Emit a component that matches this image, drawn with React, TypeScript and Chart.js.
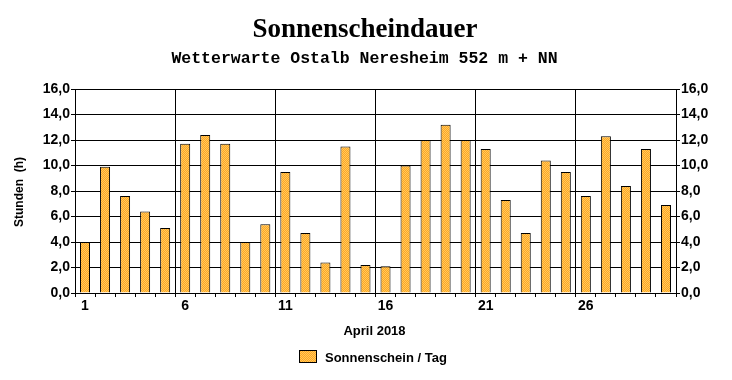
import React, { useEffect, useRef } from "react";
import { Chart, registerables } from "chart.js";

Chart.register(...registerables);

const days: string[] = Array.from({ length: 30 }, (_, i) => String(i + 1));
const sunshineHours: number[] = [
  4.0, 9.9, 7.6, 6.4, 5.1, 11.7, 12.4, 11.7, 4.0, 5.4,
  9.5, 4.7, 2.4, 11.5, 2.2, 2.1, 10.0, 12.0, 13.2, 12.0,
  11.3, 7.3, 4.7, 10.4, 9.5, 7.6, 12.3, 8.4, 11.3, 6.9,
];
const titleText = "Sonnenscheindauer";
const subtitleText = "Wetterwarte Ostalb Neresheim 552 m + NN";
const yTitle = "Stunden  (h)";
const xTitle = "April 2018";
const seriesLabel = "Sonnenschein / Tag";

function makePattern(ctx: CanvasRenderingContext2D): CanvasPattern | string {
  const c = document.createElement("canvas");
  c.width = 2;
  c.height = 2;
  const g = c.getContext("2d");
  if (!g) return "#FFB840";
  g.fillStyle = "#FFA424";
  g.fillRect(0, 0, 2, 2);
  g.fillStyle = "#FFCC5C";
  g.fillRect(0, 0, 1, 1);
  g.fillRect(1, 1, 1, 1);
  return ctx.createPattern(c, "repeat") || "#FFB840";
}

const tickFont = { family: "'Liberation Sans', Arial, sans-serif", size: 14, weight: "bold" as const };

export default function App() {
  const ref = useRef<HTMLCanvasElement>(null);
  useEffect(() => {
    document.body.style.margin = "0";
    const canvas = ref.current!;
    const ctx = canvas.getContext("2d")!;
    const pattern = makePattern(ctx);

    const textPlugin = {
      id: "texts",
      afterDraw(chart: any) {
        const c = chart.ctx as CanvasRenderingContext2D;
        c.save();
        c.fillStyle = "#000";
        c.textAlign = "center";
        c.textBaseline = "alphabetic";
        c.font = "bold 27px 'Liberation Serif', 'Times New Roman', serif";
        c.fillText(titleText, 365, 37);
        c.font = "bold 16.5px 'Liberation Mono', 'Courier New', monospace";
        c.fillText(subtitleText, 364.5, 63);
        c.font = "bold 13px 'Liberation Sans', Arial, sans-serif";
        c.fillText(xTitle, 374.5, 335);
        c.save();
        c.translate(23, 192);
        c.rotate(-Math.PI / 2);
        c.font = "bold 12px 'Liberation Sans', Arial, sans-serif";
        c.fillText(yTitle, 0, 0);
        c.restore();
        // legend
        c.fillStyle = pattern as any;
        c.fillRect(299, 350, 18, 13);
        c.strokeStyle = "#000";
        c.lineWidth = 1;
        c.strokeRect(299.5, 350.5, 17, 12);
        c.fillStyle = "#000";
        c.textAlign = "left";
        c.font = "bold 13px 'Liberation Sans', Arial, sans-serif";
        c.fillText(seriesLabel, 325, 362);
        c.restore();
      },
    };

    const fmt = (v: any) => Number(v).toFixed(1).replace(".", ",");

    const chart = new Chart(canvas, {
      type: "bar",
      data: {
        labels: days,
        datasets: [
          {
            label: seriesLabel,
            data: sunshineHours,
            backgroundColor: pattern as any,
            borderColor: "#000",
            borderWidth: 1,
            barPercentage: 0.5,
            categoryPercentage: 1,
            yAxisID: "y",
          },
        ],
      },
      options: {
        responsive: false,
        animation: false,
        devicePixelRatio: 1,
        layout: { padding: { top: 89, left: 0, right: 0, bottom: 0 } },
        plugins: {
          legend: { display: false },
          title: { display: false },
          tooltip: { enabled: false },
        },
        scales: {
          x: {
            type: "category",
            offset: true,
            grid: {
              offset: true,
              color: (c: any) => (c.index % 5 === 0 ? "#000" : "rgba(0,0,0,0)"),
              tickColor: "#000",
              tickLength: 4,
              lineWidth: 1,
            },
            border: { display: true, color: "#000", width: 1 },
            ticks: {
              autoSkip: false,
              maxRotation: 0,
              minRotation: 0,
              color: "#000",
              font: tickFont,
              padding: 1,
              callback: (_v: any, i: number) => (i % 5 === 0 ? days[i] : ""),
            },
            afterFit: (s: any) => {
              s.height = 87;
            },
          },
          y: {
            position: "left",
            min: 0,
            max: 16,
            ticks: { stepSize: 2, color: "#000", font: tickFont, padding: 1, callback: fmt },
            grid: { color: "#000", tickColor: "#000", tickLength: 4, lineWidth: 1 },
            border: { display: true, color: "#000", width: 1 },
            afterFit: (s: any) => {
              s.width = 75;
            },
          },
          y2: {
            position: "right",
            min: 0,
            max: 16,
            ticks: { stepSize: 2, color: "#000", font: tickFont, padding: 1, callback: fmt },
            grid: { drawOnChartArea: false, tickColor: "#000", tickLength: 4, color: "#000" },
            border: { display: true, color: "#000", width: 1 },
            afterFit: (s: any) => {
              s.width = 56;
            },
          },
        },
      },
      plugins: [textPlugin],
    });
    return () => chart.destroy();
  }, []);
  return <canvas ref={ref} width={732} height={380} style={{ display: "block", width: 732, height: 380 }} />;
}
